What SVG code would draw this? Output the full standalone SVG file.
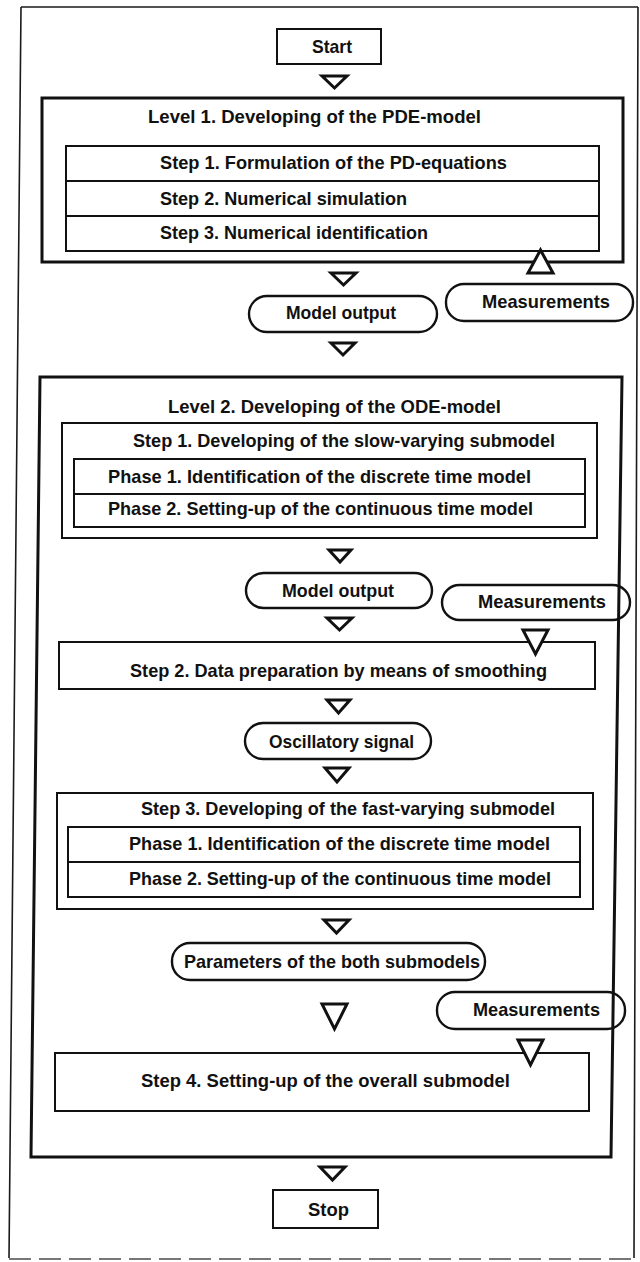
<svg xmlns="http://www.w3.org/2000/svg" width="640" height="1262" viewBox="0 0 640 1262">
<style>
.frame{fill:none;stroke:#1a1a1a;stroke-width:1.6}
.level{fill:none;stroke:#111;stroke-width:3}
.box{fill:none;stroke:#111;stroke-width:2}
.pill{fill:none;stroke:#111;stroke-width:2.4}
.tri{fill:#fff;stroke:#111;stroke-width:3;stroke-linejoin:miter}
text{font-family:"Liberation Sans",Arial,sans-serif;font-weight:bold;font-size:19px;fill:#111}
</style>
<rect x="0" y="0" width="640" height="1262" fill="#fff"/>
<g id="frame">
<path class="frame" d="M21,7 L638,7 M21,7 L9,1258 M638,7 L634,1258"/>
<line x1="9" y1="1259" x2="634" y2="1259" stroke="#777" stroke-width="2" stroke-dasharray="22 8"/>
</g>
<g id="start">
<rect class="box" x="277" y="29" width="104" height="35"/>
<text x="312" y="53" textLength="40" lengthAdjust="spacingAndGlyphs">Start</text>
</g>
<g id="level1">
<rect class="level" x="42" y="98" width="581" height="164"/>
<text x="148" y="123" textLength="333" lengthAdjust="spacingAndGlyphs">Level 1. Developing of the PDE-model</text>
<rect class="box" x="66" y="146" width="533" height="105"/>
<line class="box" x1="66" y1="181" x2="599" y2="181"/>
<line class="box" x1="66" y1="216" x2="599" y2="216"/>
<text x="160" y="169" textLength="347" lengthAdjust="spacingAndGlyphs">Step 1. Formulation of the PD-equations</text>
<text x="160" y="205" textLength="247" lengthAdjust="spacingAndGlyphs">Step 2. Numerical simulation</text>
<text x="160" y="239" textLength="268" lengthAdjust="spacingAndGlyphs">Step 3. Numerical identification</text>
</g>
<g id="model-output-1">
<rect class="pill" x="249" y="296" width="188" height="36" rx="18"/>
<text x="286" y="319" textLength="110" lengthAdjust="spacingAndGlyphs">Model output</text>
</g>
<g id="measurements-1">
<rect class="pill" x="446" y="284" width="187" height="37" rx="18"/>
<text x="482" y="308" textLength="128" lengthAdjust="spacingAndGlyphs">Measurements</text>
</g>
<g id="level2">
<polygon class="level" points="40,377 622,377 611,1157 31,1157"/>
<text x="168" y="413" textLength="333" lengthAdjust="spacingAndGlyphs">Level 2. Developing of the ODE-model</text>
</g>
<g id="l2-step1">
<rect class="box" x="62" y="423" width="535" height="115"/>
<text x="133" y="447" textLength="422" lengthAdjust="spacingAndGlyphs">Step 1. Developing of the slow-varying submodel</text>
<rect class="box" x="74" y="459" width="511" height="68"/>
<line class="box" x1="74" y1="494" x2="585" y2="494"/>
<text x="108" y="483" textLength="423" lengthAdjust="spacingAndGlyphs">Phase 1. Identification of the discrete time model</text>
<text x="108" y="515" textLength="425" lengthAdjust="spacingAndGlyphs">Phase 2. Setting-up of the continuous time model</text>
</g>
<g id="model-output-2">
<rect class="pill" x="246" y="573" width="186" height="35" rx="17.5"/>
<text x="282" y="597" textLength="112" lengthAdjust="spacingAndGlyphs">Model output</text>
</g>
<g id="measurements-2">
<rect class="pill" x="442" y="585" width="188" height="35" rx="17.5"/>
<text x="478" y="608" textLength="128" lengthAdjust="spacingAndGlyphs">Measurements</text>
</g>
<g id="l2-step2">
<rect class="box" x="59" y="642" width="536" height="47"/>
<text x="130" y="677" textLength="417" lengthAdjust="spacingAndGlyphs">Step 2. Data preparation by means of smoothing</text>
</g>
<g id="oscillatory-signal">
<rect class="pill" x="245" y="723" width="186" height="36" rx="18"/>
<text x="269" y="748" textLength="145" lengthAdjust="spacingAndGlyphs">Oscillatory signal</text>
</g>
<g id="l2-step3">
<rect class="box" x="57" y="793" width="536" height="116"/>
<text x="141" y="815" textLength="414" lengthAdjust="spacingAndGlyphs">Step 3. Developing of the fast-varying submodel</text>
<rect class="box" x="68" y="827" width="512" height="70"/>
<line class="box" x1="68" y1="862" x2="580" y2="862"/>
<text x="129" y="850" textLength="421" lengthAdjust="spacingAndGlyphs">Phase 1. Identification of the discrete time model</text>
<text x="129" y="885" textLength="422" lengthAdjust="spacingAndGlyphs">Phase 2. Setting-up of the continuous time model</text>
</g>
<g id="parameters">
<rect class="pill" x="172" y="943" width="313" height="37" rx="18"/>
<text x="184" y="968" textLength="296" lengthAdjust="spacingAndGlyphs">Parameters of the both submodels</text>
</g>
<g id="measurements-3">
<rect class="pill" x="437" y="992" width="188" height="37" rx="18"/>
<text x="473" y="1016" textLength="127" lengthAdjust="spacingAndGlyphs">Measurements</text>
</g>
<g id="l2-step4">
<rect class="box" x="55" y="1053" width="534" height="58"/>
<text x="141" y="1087" textLength="369" lengthAdjust="spacingAndGlyphs">Step 4. Setting-up of the overall submodel</text>
</g>
<g id="stop">
<rect class="box" x="273" y="1190" width="105" height="38"/>
<text x="308" y="1216" textLength="41" lengthAdjust="spacingAndGlyphs">Stop</text>
</g>
<g id="connectors">
<polygon class="tri" points="322,76 347,76 334.5,88"/>
<polygon class="tri" points="331,273 356,273 343.5,285"/>
<polygon class="tri" points="331,343 355,343 343,355"/>
<polygon class="tri" points="329,550 351,550 340,562"/>
<polygon class="tri" points="327,618 352,618 339.5,630"/>
<polygon class="tri" points="327,700 350,700 338.5,713"/>
<polygon class="tri" points="325,768 349,768 337,782"/>
<polygon class="tri" points="324,920 349,920 336.5,933"/>
<polygon class="tri" points="322,1004 347,1004 334.5,1029"/>
<polygon class="tri" points="320,1167 345,1167 332.5,1180"/>
<polygon class="tri" points="528,273 553,273 540.5,250"/>
<polygon class="tri" points="523,630 548,630 535.5,654"/>
<polygon class="tri" points="518,1040 543,1040 530.5,1065"/>
</g>
</svg>
